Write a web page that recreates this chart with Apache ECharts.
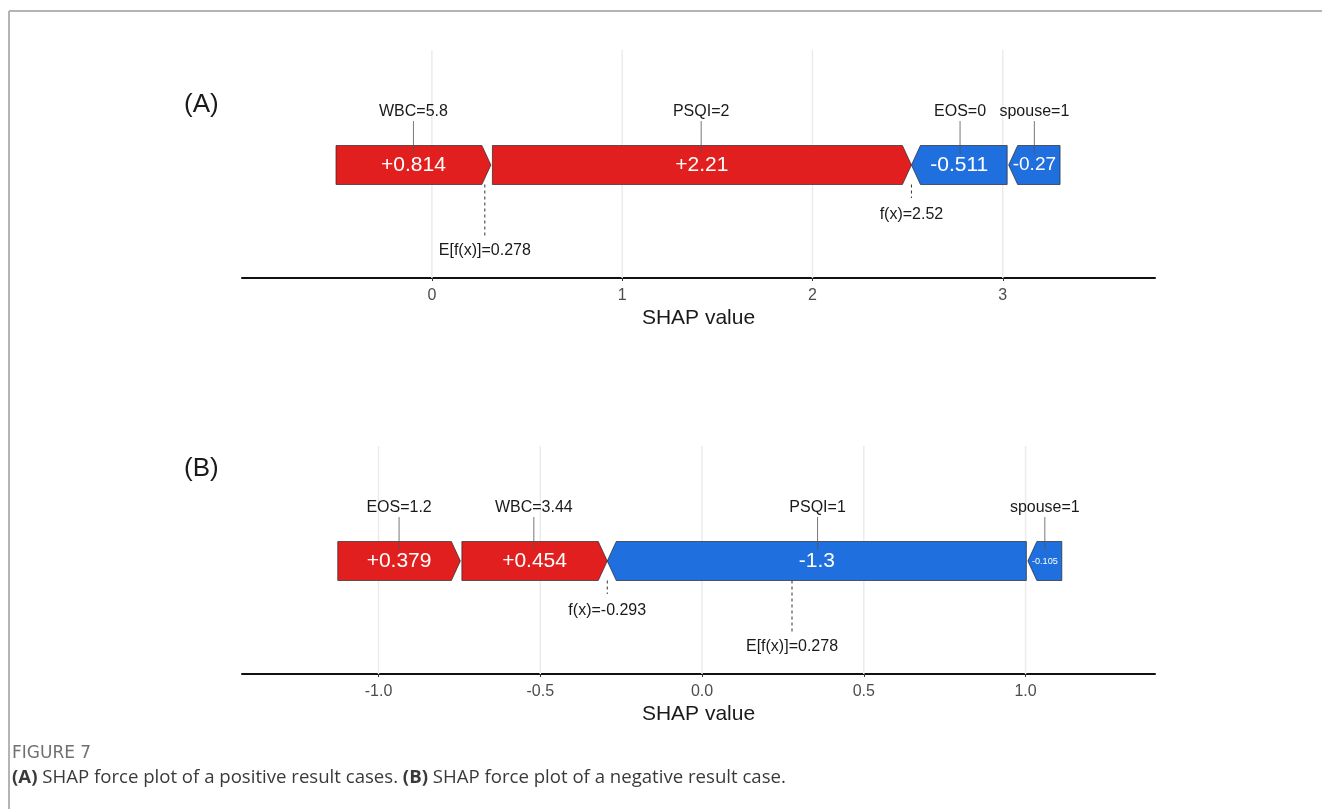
<!DOCTYPE html>
<html>
<head>
<meta charset="utf-8">
<script src="https://cdn.jsdelivr.net/npm/echarts@6.0.0/dist/echarts.min.js"></script>
<style>
html,body{margin:0;padding:0;background:#fff;}
#chart{width:1322px;height:809px;}
</style>
</head>
<body>
<div id="chart"></div>
<script>
// ---------- data ----------
const caseA_features = ['WBC=5.8', 'PSQI=2', 'EOS=0', 'spouse=1'];
const caseA_values = [0.814, 2.21, -0.511, -0.27];
const caseA_base = 0.278;
const caseA_fx = 2.52;
const caseA_ticks = [0, 1, 2, 3];
const caseA_tickLabels = ['0', '1', '2', '3'];
const caseA_range = [-0.998, 3.8];

const caseB_features = ['EOS=1.2', 'WBC=3.44', 'PSQI=1', 'spouse=1'];
const caseB_values = [0.379, 0.454, -1.3, -0.105];
const caseB_base = 0.278;
const caseB_fx = -0.293;
const caseB_ticks = [-1.0, -0.5, 0.0, 0.5, 1.0];
const caseB_tickLabels = ['-1.0', '-0.5', '0.0', '0.5', '1.0'];
const caseB_range = [-1.422, 1.40];

const panelTitles = ['(A)', '(B)'];
const axisName = 'SHAP value';
const figureLabel = 'FIGURE 7';

// ---------- styles / layout ----------
const FONT = '"Liberation Sans", Arial, sans-serif';
const RED = '#E21F1F';
const BLUE = '#1F6FDE';
const BAR_Y = 113;      // bar centre (y units = px above axis)
const BAR_H = 19.5;     // half height in px
const ARROW = 9;
const VAL_FS = 21;

const measureCtx = document.createElement('canvas').getContext('2d');
function textW(t, fs) {
  measureCtx.font = fs + 'px ' + FONT;
  return measureCtx.measureText(t).width;
}

function buildSegments(features, values, fx) {
  const pos = [], neg = [];
  values.forEach((v, i) => (v > 0 ? pos : neg).push(i));
  const sumPos = pos.reduce((s, i) => s + values[i], 0);
  const segs = [];
  let cur = fx - sumPos;
  pos.forEach((i, k) => {
    segs.push({ value: [cur, cur + values[i], 1, values[i], k > 0 ? 1 : 0], name: features[i] });
    cur += values[i];
  });
  cur = fx;
  neg.forEach((i, k) => {
    segs.push({ value: [cur, cur - values[i], -1, values[i], k < neg.length - 1 ? 1 : 0], name: features[i] });
    cur -= values[i];
  });
  return segs;
}

function fmtVal(v) { return (v > 0 ? '+' : '') + String(v); }

function renderBar(params, api) {
  const x0 = api.value(0), x1 = api.value(1), sign = api.value(2), v = api.value(3), gap = api.value(4);
  const yc = api.coord([x0, BAR_Y])[1];
  let L = api.coord([x0, BAR_Y])[0], R = api.coord([x1, BAR_Y])[0];
  const top = yc - BAR_H, bot = yc + BAR_H;
  const ah = Math.min(ARROW, (R - L) * 0.45);
  let pts;
  if (sign > 0) {
    if (gap) L += 1.5;
    pts = [[L, top], [R - ah, top], [R, yc], [R - ah, bot], [L, bot]];
  } else {
    if (gap) R -= 1.5;
    pts = [[L, yc], [L + ah, top], [R, top], [R, bot], [L + ah, bot]];
  }
  const txt = fmtVal(v);
  const w = textW(txt, VAL_FS);
  const avail = (R - L) - 8;
  const fs = Math.min(VAL_FS, VAL_FS * avail / w);
  return {
    type: 'group',
    children: [
      { type: 'polygon', shape: { points: pts },
        style: { fill: sign > 0 ? RED : BLUE, stroke: '#2a2a2a', lineWidth: 0.7 } },
      { type: 'text', x: (L + R) / 2, y: yc,
        style: { text: txt, fill: '#ffffff', fontSize: fs, fontFamily: FONT,
                 align: 'center', verticalAlign: 'middle' } }
    ]
  };
}

function makeFeatureLabelRenderer(segs) {
  return function (params, api) {
    const x0 = api.value(0), x1 = api.value(1);
    const name = segs[params.dataIndex].name;
    const cx = (api.coord([x0, 0])[0] + api.coord([x1, 0])[0]) / 2;
    const yText = api.coord([0, 166])[1];
    const yL0 = api.coord([0, 157])[1];
    const yL1 = api.coord([0, BAR_Y])[1] - BAR_H + 8;
    return {
      type: 'group',
      children: [
        { type: 'line', shape: { x1: cx, y1: yL0, x2: cx, y2: yL1 },
          style: { stroke: '#555555', lineWidth: 0.8 } },
        { type: 'text', x: cx, y: yText,
          style: { text: name, fill: '#1a1a1a', fontSize: 16, fontFamily: FONT,
                   align: 'center', verticalAlign: 'middle' } }
      ]
    };
  };
}

function makeMarkerRenderer(markers) {
  return function (params, api) {
    const m = markers[params.dataIndex];
    const x = api.coord([api.value(0), 0])[0];
    const yStart = api.coord([0, BAR_Y])[1] + BAR_H;
    const endUnits = m.kind === 'f' ? 80 : 40;
    const labUnits = m.kind === 'f' ? 63 : 27;
    const yEnd = api.coord([0, endUnits])[1];
    const yLab = api.coord([0, labUnits])[1];
    return {
      type: 'group',
      children: [
        { type: 'line', shape: { x1: x, y1: yStart, x2: x, y2: yEnd },
          style: { stroke: '#333333', lineWidth: 1, lineDash: [3, 3] } },
        { type: 'text', x: x, y: yLab,
          style: { text: m.label, fill: '#1a1a1a', fontSize: 16, fontFamily: FONT,
                   align: 'center', verticalAlign: 'middle' } }
      ]
    };
  };
}

function renderGrid(params, api) {
  const x = api.coord([api.value(0), 0])[0];
  const y0 = api.coord([0, 0])[1];
  const y1 = api.coord([0, 228])[1];
  return { type: 'line', shape: { x1: x, y1: y0, x2: x, y2: y1 },
           style: { stroke: '#ebebeb', lineWidth: 1.5 } };
}

function makeX(idx, range, ticks, labels) {
  return {
    gridIndex: idx, type: 'value', min: range[0], max: range[1],
    name: axisName, nameLocation: 'middle', nameGap: 30,
    nameTextStyle: { fontFamily: FONT, fontSize: 21, color: '#1a1a1a' },
    axisLine: { show: true, onZero: false, lineStyle: { color: '#111111', width: 2 } },
    axisTick: { show: true, customValues: ticks, length: 3, lineStyle: { color: '#333333', width: 1 } },
    axisLabel: { customValues: ticks, margin: 10, fontFamily: FONT, fontSize: 16, color: '#4d4d4d',
                 formatter: (v) => { const i = ticks.findIndex(t => Math.abs(t - v) < 1e-9); return i >= 0 ? labels[i] : ''; } },
    splitLine: { show: false }
  };
}
function makeY(idx) {
  return { gridIndex: idx, type: 'value', min: 0, max: 228, show: false };
}

function panelSeries(idx, features, values, base, fx, ticks) {
  const segs = buildSegments(features, values, fx);
  const markers = [
    { value: [fx], label: 'f(x)=' + fx, kind: 'f' },
    { value: [base], label: 'E[f(x)]=' + base, kind: 'E' }
  ];
  return [
    { type: 'custom', xAxisIndex: idx, yAxisIndex: idx, z: 1, silent: true,
      renderItem: renderGrid, data: ticks.map(t => [t]), encode: { x: 0 } },
    { type: 'custom', xAxisIndex: idx, yAxisIndex: idx, z: 3, silent: true,
      renderItem: renderBar, data: segs, encode: { x: [0, 1] } },
    { type: 'custom', xAxisIndex: idx, yAxisIndex: idx, z: 4, silent: true,
      renderItem: makeFeatureLabelRenderer(segs), data: segs, encode: { x: [0, 1] } },
    { type: 'custom', xAxisIndex: idx, yAxisIndex: idx, z: 4, silent: true,
      renderItem: makeMarkerRenderer(markers), data: markers.map(m => ({ value: m.value })), encode: { x: 0 } }
  ];
}

const chart = echarts.init(document.getElementById('chart'), null, { renderer: 'canvas' });
chart.setOption({
  animation: false,
  backgroundColor: '#ffffff',
  grid: [
    { left: 242, right: 167, top: 50, height: 228 },
    { left: 242, right: 167, top: 446, height: 228 }
  ],
  xAxis: [
    makeX(0, caseA_range, caseA_ticks, caseA_tickLabels),
    makeX(1, caseB_range, caseB_ticks, caseB_tickLabels)
  ],
  yAxis: [makeY(0), makeY(1)],
  series: [
    ...panelSeries(0, caseA_features, caseA_values, caseA_base, caseA_fx, caseA_ticks),
    ...panelSeries(1, caseB_features, caseB_values, caseB_base, caseB_fx, caseB_ticks)
  ],
  graphic: [
    { type: 'line', shape: { x1: 9, y1: 11, x2: 1322, y2: 11 }, style: { stroke: '#b4b4b4', lineWidth: 2 } },
    { type: 'line', shape: { x1: 9, y1: 11, x2: 9, y2: 809 }, style: { stroke: '#b4b4b4', lineWidth: 2 } },
    { type: 'text', x: 184, y: 105, style: { text: panelTitles[0], fontFamily: FONT, fontSize: 26, fill: '#1a1a1a', verticalAlign: 'middle' } },
    { type: 'text', x: 184, y: 469, style: { text: panelTitles[1], fontFamily: FONT, fontSize: 26, fill: '#1a1a1a', verticalAlign: 'middle' } },
    { type: 'text', x: 12, y: 754, style: { text: figureLabel, fontFamily: '"DejaVu Sans", sans-serif', fontSize: 17, fill: '#707070', verticalAlign: 'middle' } },
    { type: 'text', x: 12, y: 778, style: {
        text: '{b|(A)} SHAP force plot of a positive result cases. {b|(B)} SHAP force plot of a negative result case.',
        fontFamily: '"Open Sans", sans-serif', fontSize: 18.6, fill: '#3a3a3a', verticalAlign: 'middle',
        rich: { b: { fontWeight: 'bold', fontFamily: '"Open Sans", sans-serif', fontSize: 18.6, fill: '#3a3a3a' } } } }
  ]
});
</script>
</body>
</html>
